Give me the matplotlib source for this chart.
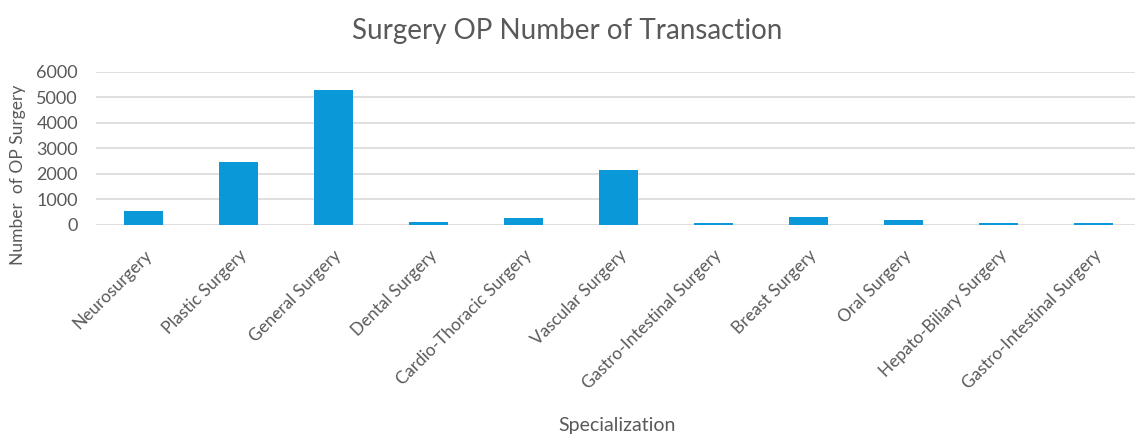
import matplotlib
matplotlib.use("Agg")
import matplotlib.pyplot as plt

specializations = ["Neurosurgery", "Plastic Surgery", "General Surgery", "Dental Surgery",
                   "Cardio-Thoracic Surgery", "Vascular Surgery", "Gastro-Intestinal Surgery",
                   "Breast Surgery", "Oral Surgery", "Hepato-Biliary Surgery",
                   "Gastro-Intestinal Surgery"]
op_counts = [540, 2480, 5300, 130, 280, 2170, 80, 330, 210, 80, 80]
y_ticks = [0, 1000, 2000, 3000, 4000, 5000, 6000]

bar_blue = "#0b98d8"
grey_text = "#595959"
grid_grey = "#d9d9d9"

plt.rcParams['font.family'] = ['Lato', 'DejaVu Sans']

fig = plt.figure(figsize=(11.35, 4.36), dpi=100)
ax = fig.add_axes([0.0846, 0.484, 0.9154, 0.351])

x = list(range(len(specializations)))
ax.bar(x, op_counts, width=0.41, color=bar_blue, zorder=3)

ax.set_ylim(0, 6000)
ax.set_xlim(-0.5, 10.44)
ax.set_yticks(y_ticks)
ax.set_yticklabels([str(t) for t in y_ticks], fontsize=13, color=grey_text)
ax.set_xticks(x)
ax.set_xticklabels(specializations, rotation=45, ha="right", rotation_mode="anchor",
                   fontsize=12.3, color=grey_text)
ax.tick_params(axis="both", length=0)
ax.tick_params(axis="y", pad=13)
ax.tick_params(axis="x", pad=16)

ax.yaxis.grid(True, color=grid_grey, linewidth=1.2, zorder=0)
for s in ax.spines.values():
    s.set_visible(False)

fig.text(0.5, 0.93, "Surgery OP Number of Transaction", ha="center", va="center",
         fontsize=20, color=grey_text)
fig.text(0.016, 0.598, "Number  of OP Surgery", rotation=90, ha="center", va="center",
         fontsize=12.5, color=grey_text)
fig.text(0.544, 0.025, "Specialization", ha="center", va="center",
         fontsize=14, color=grey_text)

plt.savefig("out.png", dpi=100)
